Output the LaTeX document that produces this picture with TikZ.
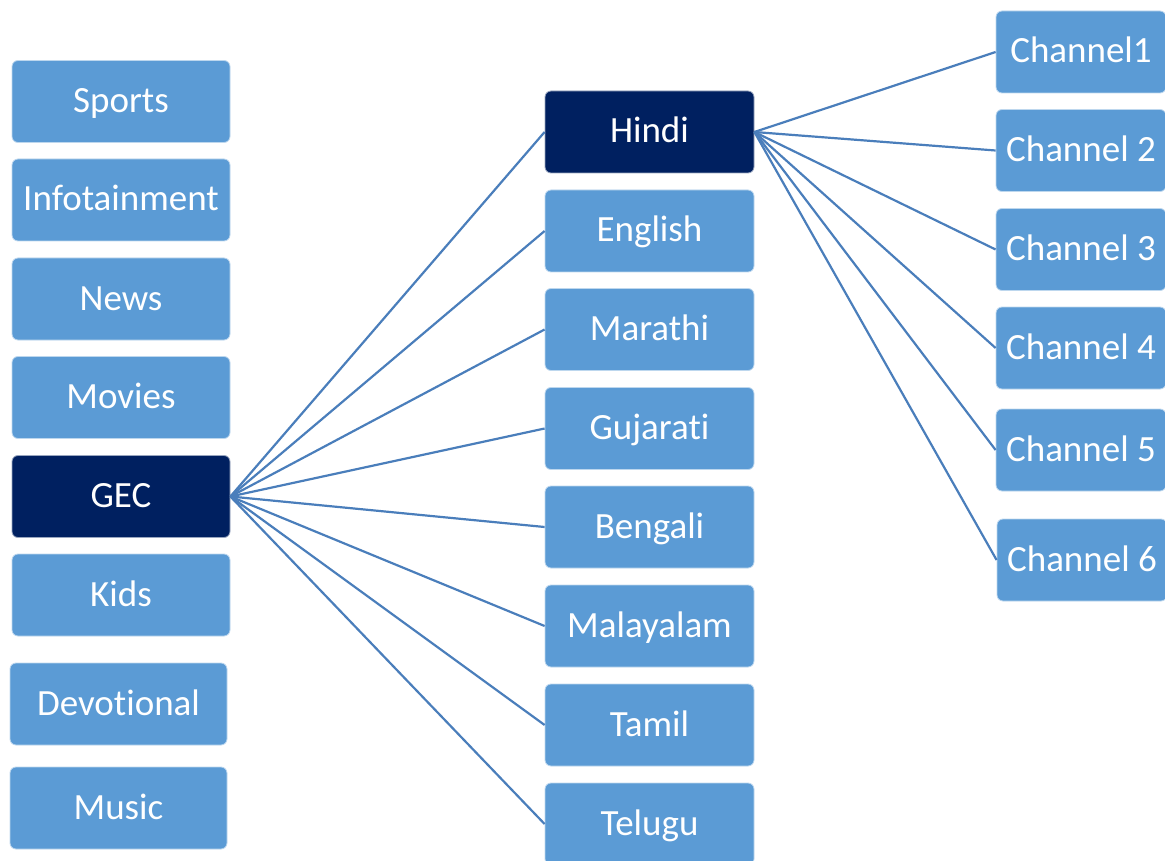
\documentclass[tikz,border=0pt]{standalone}
\usepackage{fontspec}
\setmainfont{Carlito}[Ligatures={NoCommon}]
\definecolor{boxblue}{HTML}{5B9BD5}
\definecolor{boxdark}{HTML}{002060}
\definecolor{linkblue}{HTML}{4A7EBB}
\begin{document}
\begin{tikzpicture}[x=1pt,y=-1pt,
  box/.style={rectangle, rounded corners=6pt, fill=boxblue, draw=white!60!boxblue, line width=0.8pt,
    text=white, font=\fontsize{37}{40}\selectfont, inner sep=0pt, minimum height=82pt,
    text height=28pt, text depth=6pt},
  dark/.style={box, fill=boxdark, draw=white!60!boxdark},
  lcol/.style={box, minimum width=218pt},
  mcol/.style={box, minimum width=209pt},
  rcol/.style={box, minimum width=170pt},
  link/.style={draw=linkblue, line width=2.2pt}]
\useasboundingbox (0,0) rectangle (1165,861);
\clip (0,0) rectangle (1165,861);
% left column
\node[lcol] (sports) at (121,101.5) {Sports};
\node[lcol] (info) at (121,200) {Infotainment};
\node[lcol] (news) at (121,299) {News};
\node[lcol] (movies) at (121,397.5) {Movies};
\node[lcol,dark] (gec) at (121,496.5) {GEC};
\node[lcol] (kids) at (121,595) {Kids};
\node[box,minimum width=217pt] (devotional) at (118.5,704) {Devotional};
\node[box,minimum width=217pt] (music) at (118.5,808) {Music};
% middle column
\node[mcol,dark] (hindi) at (649.5,132) {Hindi};
\node[mcol] (english) at (649.5,231) {English};
\node[mcol] (marathi) at (649.5,329.5) {Marathi};
\node[mcol] (gujarati) at (649.5,428.5) {Gujarati};
\node[mcol] (bengali) at (649.5,527) {Bengali};
\node[mcol] (malayalam) at (649.5,626) {Malayalam};
\node[mcol] (tamil) at (649.5,725) {Tamil};
\node[mcol] (telugu) at (649.5,824) {Telugu};
% right column
\node[rcol] (ch1) at (1081,52) {Channel1};
\node[rcol] (ch2) at (1081,150.5) {Channel 2};
\node[rcol] (ch3) at (1081,249.5) {Channel 3};
\node[rcol] (ch4) at (1081,348) {Channel 4};
\node[rcol] (ch5) at (1081,450) {Channel 5};
\node[rcol] (ch6) at (1082,560) {Channel 6};
% connectors
\foreach \m in {hindi,english,marathi,gujarati,bengali,malayalam,tamil,telugu}
  \draw[link] (gec.east) -- (\m.west);
\foreach \c in {ch1,ch2,ch3,ch4,ch5,ch6}
  \draw[link] (hindi.east) -- (\c.west);
\end{tikzpicture}
\end{document}
